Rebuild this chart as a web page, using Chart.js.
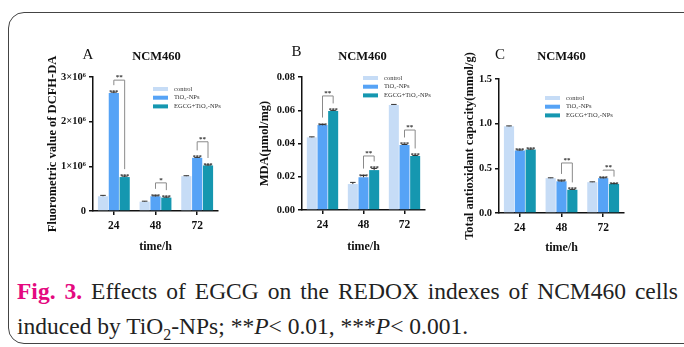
<!DOCTYPE html>
<html>
<head>
<meta charset="utf-8">
<script src="https://cdn.jsdelivr.net/npm/chart.js@4.4.1/dist/chart.umd.min.js"></script>
<style>
  body { margin: 0; background: #fff; }
  #wrap { position: relative; width: 684px; height: 347px; overflow: hidden; background: #fff; }
  #frame { position: absolute; left: 8px; top: 12px; width: 690px; height: 330px;
           border: 1.5px solid #444; border-radius: 16px; }
  canvas { position: absolute; }
  .cap { position: absolute; left: 17px; width: 661px; font-family: 'Liberation Serif', 'Times New Roman', serif;
         font-size: 23.5px; line-height: 36px; color: #222; white-space: nowrap; }
  #cap1 { top: 273px; text-align: justify; text-align-last: justify; white-space: normal; }
  #cap2 { top: 308px; }
  .fig { color: #e4097f; font-weight: bold; }
</style>
</head>
<body>
<div id="wrap">
  <div id="frame"></div>
  <canvas id="chartA" width="185" height="230" style="left:40px;top:30px"></canvas>
  <canvas id="chartB" width="182" height="230" style="left:250px;top:30px"></canvas>
  <canvas id="chartC" width="176" height="230" style="left:455px;top:30px"></canvas>
  <div class="cap" id="cap1"><span class="fig">Fig. 3.</span> Effects of EGCG on the REDOX indexes of NCM460 cells</div>
  <div class="cap" id="cap2">induced by TiO<sub style="font-size:16px">2</sub>-NPs; **<i>P</i>&lt; 0.01, ***<i>P</i>&lt; 0.001.</div>
</div>
<script>
// 데이터
var times = ['24', '48', '72'];
var groups = ['control', 'TiO\u2082-NPs', 'EGCG+TiO\u2082-NPs'];
var colors = ['#c6dcf6', '#56a3f6', '#1597b0'];

// A: DCFH-DA
var dcfhControl = [0.33e6, 0.21e6, 0.78e6];
var dcfhTiO2 = [2.64e6, 0.33e6, 1.19e6];
var dcfhEgcg = [0.76e6, 0.30e6, 1.02e6];
var dcfhErr = [0.02e6, 0.01e6, 0.01e6];
var dcfhBracket = [2.93e6, 0.63e6, 1.55e6];
var dcfhBracketLabel = ['**', '*', '**'];

// B: MDA
var mdaControl = [0.0437, 0.0156, 0.0632];
var mdaTiO2 = [0.0511, 0.0197, 0.0391];
var mdaEgcg = [0.0596, 0.0240, 0.0325];
var mdaErr = [0.0003, 0.0010, 0.0003];
var mdaBracket = [0.0686, 0.0325, 0.0481];
var mdaBracketLabel = ['**', '**', '**'];

// C: T-AOC
var taocControl = [0.97, 0.39, 0.345];
var taocTiO2 = [0.70, 0.355, 0.39];
var taocEgcg = [0.71, 0.26, 0.325];
var taocErr = [0.005, 0.004, 0.004];
var taocBracket = [null, 0.56, 0.48];
var taocBracketLabel = ['', '**', '**'];

var stars = [['', '', ''], ['***', '***', '***'], ['***', '***', '***']];

var serif = "'Liberation Serif', 'Times New Roman', serif";

// 별표, 괄호, 범례, 제목 그리기
var extras = {
  id: 'extras',
  afterDatasetsDraw: function(chart) {
    var o = chart.options.plugins.extras;
    var ctx = chart.ctx;
    var y = chart.scales.y;
    var area = chart.chartArea;
    ctx.save();
    // 오차 막대
    chart.data.datasets.forEach(function(ds, d) {
      var meta = chart.getDatasetMeta(d);
      meta.data.forEach(function(bar, i) {
        var top = y.getPixelForValue(ds.data[i] + o.err[i]);
        var w = bar.width * 0.55;
        ctx.strokeStyle = '#333';
        ctx.lineWidth = 1;
        ctx.beginPath();
        ctx.moveTo(bar.x, bar.y);
        ctx.lineTo(bar.x, top);
        ctx.moveTo(bar.x - w / 2, top);
        ctx.lineTo(bar.x + w / 2, top);
        ctx.stroke();
        if (stars[d][i]) {
          ctx.fillStyle = '#333';
          ctx.font = 'bold 6px ' + serif;
          ctx.textAlign = 'center';
          ctx.textBaseline = 'alphabetic';
          ctx.fillText(stars[d][i], bar.x, top + 2);
        }
      });
    });
    // 괄호
    var m1 = chart.getDatasetMeta(1), m2 = chart.getDatasetMeta(2);
    o.bracket.forEach(function(lv, i) {
      if (lv == null) return;
      var b1 = m1.data[i], b2 = m2.data[i];
      var yy = y.getPixelForValue(lv);
      var e1 = y.getPixelForValue(chart.data.datasets[1].data[i] + o.err[i]) - 7;
      var e2 = y.getPixelForValue(chart.data.datasets[2].data[i] + o.err[i]) - 7;
      ctx.strokeStyle = '#8a8a8a';
      ctx.lineWidth = 1;
      ctx.beginPath();
      ctx.moveTo(b1.x, e1);
      ctx.lineTo(b1.x, yy);
      ctx.lineTo(b2.x, yy);
      ctx.lineTo(b2.x, e2);
      ctx.stroke();
      ctx.fillStyle = '#333';
      ctx.font = 'bold 7px ' + serif;
      ctx.textAlign = 'center';
      ctx.textBaseline = 'alphabetic';
      ctx.fillText(o.bracketLabel[i], (b1.x + b2.x) / 2, yy - 1);
    });
    // 범례
    var lx = area.left + o.legend[0], ly = area.top + o.legend[1];
    groups.forEach(function(g, k) {
      var ry = ly + k * 8.7;
      ctx.fillStyle = colors[k];
      ctx.fillRect(lx, ry - 2, 15, 4);
      ctx.fillStyle = '#333';
      ctx.font = '6.5px ' + serif;
      ctx.textAlign = 'left';
      ctx.textBaseline = 'middle';
      ctx.fillText(g, lx + 21, ry);
    });
    // 패널 글자와 제목
    ctx.fillStyle = '#111';
    ctx.textBaseline = 'middle';
    ctx.textAlign = 'center';
    ctx.font = '15px ' + serif;
    ctx.fillText(o.letter, area.left + o.letterPos[0], area.top + o.letterPos[1]);
    ctx.font = 'bold 12.5px ' + serif;
    ctx.fillText('NCM460', (area.left + area.right) / 2 + o.titleDx, area.top + o.titleDy);
    ctx.restore();
  }
};

function makePanel(id, p) {
  var ctx = document.getElementById(id).getContext('2d');
  return new Chart(ctx, {
    type: 'bar',
    data: {
      labels: times,
      datasets: [
        { label: groups[0], data: p.values[0], backgroundColor: colors[0] },
        { label: groups[1], data: p.values[1], backgroundColor: colors[1] },
        { label: groups[2], data: p.values[2], backgroundColor: colors[2] }
      ]
    },
    options: {
      responsive: false,
      animation: false,
      layout: { padding: { left: 0, top: p.top, right: 7, bottom: 0 } },
      datasets: { bar: { barPercentage: 0.94, categoryPercentage: 0.78, borderWidth: 0 } },
      plugins: {
        legend: { display: false },
        tooltip: { enabled: false },
        extras: {
          err: p.err, bracket: p.bracket, bracketLabel: p.bracketLabel,
          legend: p.legend, letter: p.letter, letterPos: p.letterPos,
          titleDx: p.titleDx, titleDy: p.titleDy
        }
      },
      scales: {
        x: {
          afterFit: function(s) { s.height = p.xh; },
          grid: { display: true, drawOnChartArea: false, offset: false, tickLength: 4, color: '#111', lineWidth: 1.5 },
          border: { color: '#111', width: 1.5 },
          ticks: { color: '#111', padding: 4, font: { family: serif, size: 11.5, weight: 'bold' } },
          title: { display: true, text: 'time/h', color: '#111', padding: { top: 0, bottom: p.xtPad },
                   font: { family: serif, size: 12, weight: 'bold' } }
        },
        y: {
          min: 0, max: p.max,
          afterFit: function(s) { s.width = p.yw; },
          grid: { display: true, drawOnChartArea: false, tickLength: 4, color: '#111', lineWidth: 1.5 },
          border: { color: '#111', width: 1.5 },
          ticks: { stepSize: p.step, color: '#111', padding: 3, callback: p.fmt,
                   font: { family: serif, size: 10.5, weight: 'bold' } },
          title: { display: true, text: p.ytitle, color: '#111', padding: { top: p.ytPad, bottom: 0 },
                   font: { family: serif, size: 12.5, weight: 'bold' } }
        }
      }
    },
    plugins: [extras]
  });
}

makePanel('chartA', {
  values: [dcfhControl, dcfhTiO2, dcfhEgcg], err: dcfhErr,
  bracket: dcfhBracket, bracketLabel: dcfhBracketLabel,
  max: 3e6, step: 1e6,
  fmt: function(v) { return v === 0 ? '0' : (v / 1e6) + '\u00d710\u2076'; },
  ytitle: 'Fluorometric value of DCFH-DA',
  top: 47, xh: 49, yw: 53, xtPad: 6, ytPad: 5,
  legend: [60, 12], letter: 'A', letterPos: [-5, -22], titleDx: 1, titleDy: -20
});

makePanel('chartB', {
  values: [mdaControl, mdaTiO2, mdaEgcg], err: mdaErr,
  bracket: mdaBracket, bracketLabel: mdaBracketLabel,
  max: 0.08, step: 0.02,
  fmt: function(v) { return v.toFixed(2); },
  ytitle: 'MDA(\u03bcmol/mg)',
  top: 47, xh: 50, yw: 52, xtPad: 6, ytPad: 7,
  legend: [61, 1], letter: 'B', letterPos: [-5.5, -25], titleDx: -1, titleDy: -20
});

makePanel('chartC', {
  values: [taocControl, taocTiO2, taocEgcg], err: taocErr,
  bracket: taocBracket, bracketLabel: taocBracketLabel,
  max: 1.5, step: 0.5,
  fmt: function(v) { return v.toFixed(1); },
  ytitle: 'Total antioxidant capacity(mmol/g)',
  top: 49, xh: 47, yw: 44, xtPad: 5, ytPad: 7,
  legend: [46, 19], letter: 'C', letterPos: [1, -24], titleDx: 0, titleDy: -22
});
</script>
</body>
</html>
